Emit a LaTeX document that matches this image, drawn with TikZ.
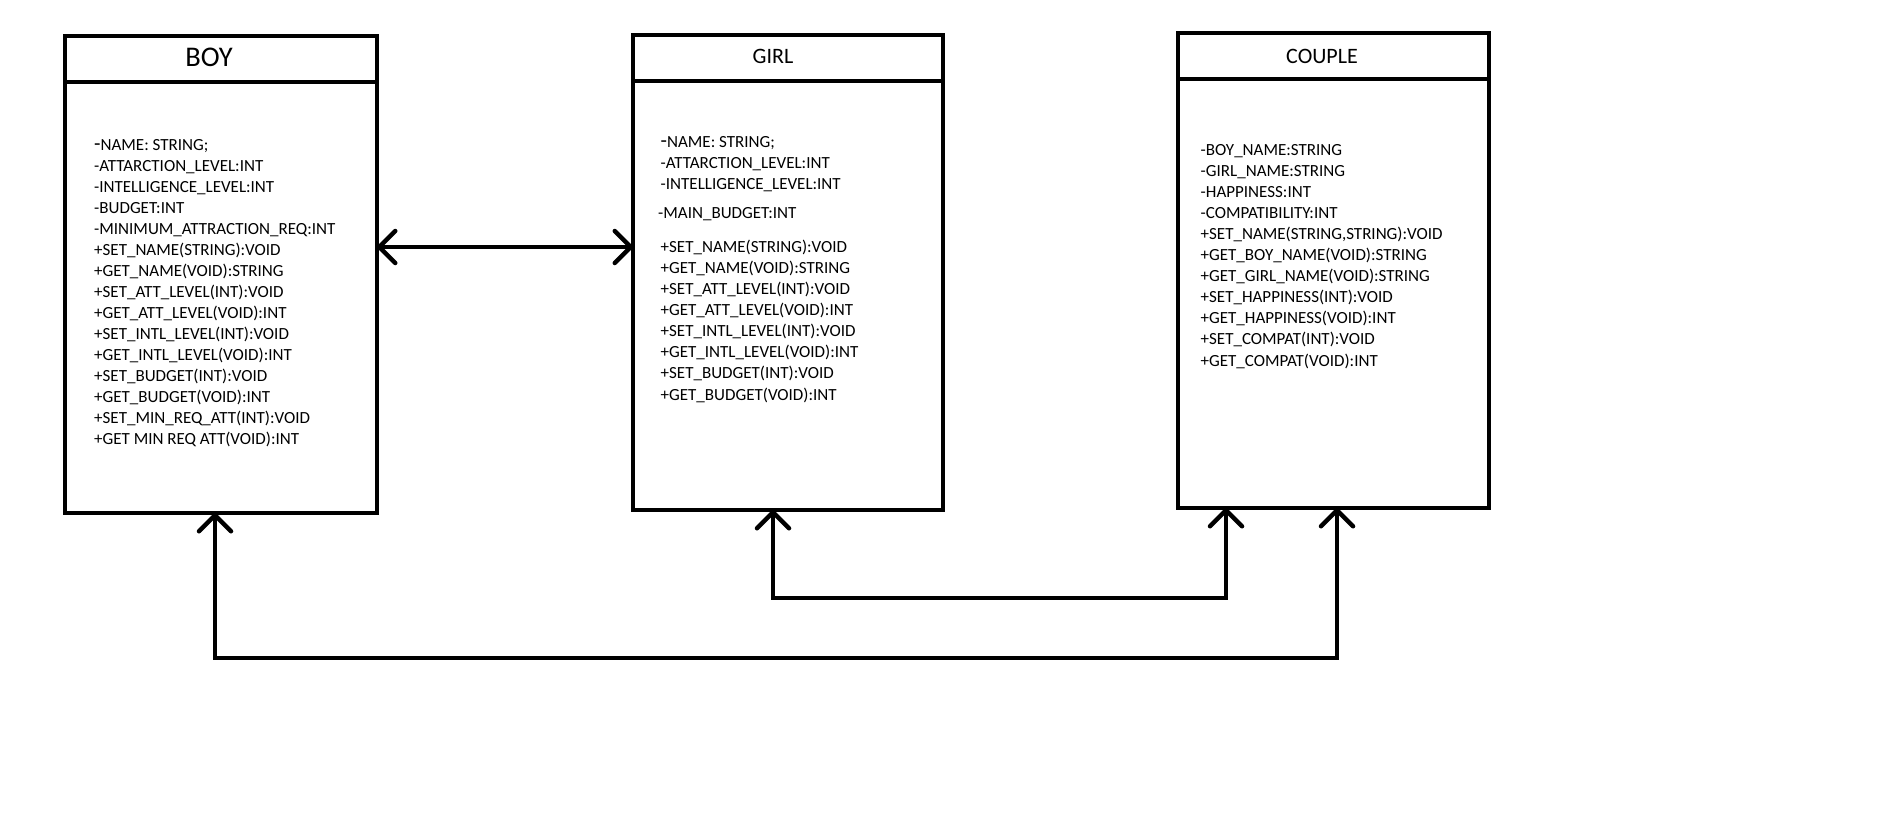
\documentclass[tikz,border=0pt]{standalone}
\usepackage{fontspec}
\setmainfont{Carlito}
\usetikzlibrary{arrows.meta}

\begin{document}
\begin{tikzpicture}[x=1pt,y=-1pt,
    classbox/.style={draw, line width=3.5pt, inner sep=0pt, outer sep=0pt, anchor=north west},
    classline/.style={draw, line width=3.5pt},
    title/.style={anchor=base, inner sep=0pt, font=\fontsize{22}{26}\selectfont},
    members/.style={anchor=base west, align=left, inner sep=0pt, font=\fontsize{17}{21.05}\selectfont},
    barb/.tip={Straight Barb[length=16pt,width=32pt,round]},
    assoc/.style={draw, line width=4.5pt, barb-barb},
    ]
    \useasboundingbox (0,0) rectangle (1886,824);

    % Place classes
    \node [classbox, minimum width=312pt, minimum height=477pt] (boy) at (65,36) {};
    \node [classbox, minimum width=310pt, minimum height=475pt] (girl) at (633,35) {};
    \node [classbox, minimum width=311pt, minimum height=475pt] (couple) at (1178,33) {};

    \path [classline] (boy.west |- 0,82) -- (boy.east |- 0,82);
    \path [classline] (girl.west |- 0,81) -- (girl.east |- 0,81);
    \path [classline] (couple.west |- 0,79) -- (couple.east |- 0,79);

    \node [title, font=\fontsize{28.5}{32}\selectfont] (boytitle) at (209,66.7) {BOY};
    \node [title] (girltitle) at (773,63.3) {GIRL};
    \node [title] (coupletitle) at (1322,63.3) {COUPLE};

    % Members (anchored at the baseline of the last line)
    \node [members] (boymembers) at (94,444.8) {{\fontsize{21}{21}\selectfont -}NAME: STRING;\\
      -ATTARCTION\_LEVEL:INT\\
      -INTELLIGENCE\_LEVEL:INT\\
      -BUDGET:INT\\
      -MINIMUM\_ATTRACTION\_REQ:INT\\
      +SET\_NAME(STRING):VOID\\
      +GET\_NAME(VOID):STRING\\
      +SET\_ATT\_LEVEL(INT):VOID\\
      +GET\_ATT\_LEVEL(VOID):INT\\
      +SET\_INTL\_LEVEL(INT):VOID\\
      +GET\_INTL\_LEVEL(VOID):INT\\
      +SET\_BUDGET(INT):VOID\\
      +GET\_BUDGET(VOID):INT\\
      +SET\_MIN\_REQ\_ATT(INT):VOID\\
      +GET MIN REQ ATT(VOID):INT};

    \node [members] (girlmembers) at (660.5,400) {{\fontsize{21}{21}\selectfont -}NAME: STRING;\\
      -ATTARCTION\_LEVEL:INT\\
      -INTELLIGENCE\_LEVEL:INT\\[8pt]
      \hspace*{-2.5pt}-MAIN\_BUDGET:INT\\[13pt]
      +SET\_NAME(STRING):VOID\\
      +GET\_NAME(VOID):STRING\\
      +SET\_ATT\_LEVEL(INT):VOID\\
      +GET\_ATT\_LEVEL(VOID):INT\\
      +SET\_INTL\_LEVEL(INT):VOID\\
      +GET\_INTL\_LEVEL(VOID):INT\\
      +SET\_BUDGET(INT):VOID\\
      +GET\_BUDGET(VOID):INT};

    \node [members] (couplemembers) at (1200.5,366) {-BOY\_NAME:STRING\\
      -GIRL\_NAME:STRING\\
      -HAPPINESS:INT\\
      -COMPATIBILITY:INT\\
      +SET\_NAME(STRING,STRING):VOID\\
      +GET\_BOY\_NAME(VOID):STRING\\
      +GET\_GIRL\_NAME(VOID):STRING\\
      +SET\_HAPPINESS(INT):VOID\\
      +GET\_HAPPINESS(VOID):INT\\
      +SET\_COMPAT(INT):VOID\\
      +GET\_COMPAT(VOID):INT};

    % Draw associations
    \path [assoc] (boy.east |- 0,247) -- (girl.west |- 0,247);
    \path [assoc] (boy.south -| 215,0) -- (215,658) -- (1337,658) -- (couple.south -| 1337,0);
    \path [assoc] (girl.south -| 773,0) -- (773,598) -- (1226,598) -- (couple.south -| 1226,0);
  \end{tikzpicture}
\end{document}
